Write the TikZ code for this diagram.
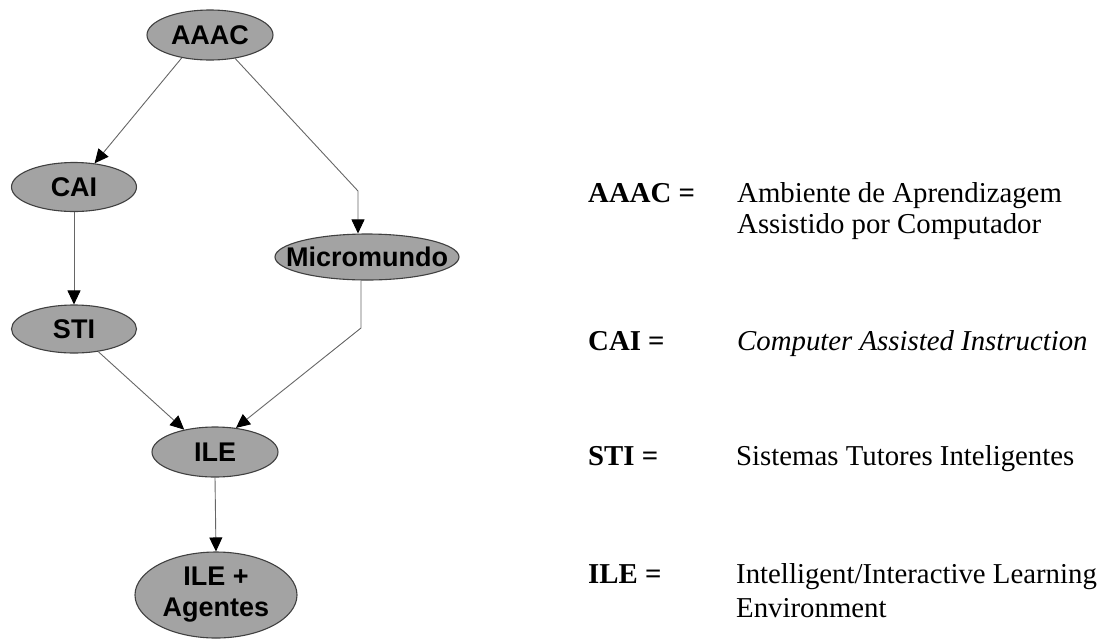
\documentclass[tikz,border=0pt]{standalone}
\usepackage{fontspec}
\setmainfont{Liberation Serif}
\newfontfamily\nodefont{Liberation Sans}
\usetikzlibrary{shapes.geometric,arrows.meta}
\begin{document}
\begin{tikzpicture}[x=1pt,y=-1pt,
  blob/.style={ellipse,draw=black!75,line width=1.1pt,fill=black!36,inner sep=0pt},
  arr/.style={draw=black!60,line width=0.9pt,-{Triangle[length=14pt,width=13pt,color=black]}},
  lbl/.style={font=\nodefont\bfseries\fontsize{27}{31}\selectfont,align=center,inner sep=0pt},
  key/.style={anchor=base west,inner sep=0pt,font=\fontsize{28.8}{32}\selectfont\bfseries},
  defn/.style={anchor=base west,inner sep=0pt,font=\fontsize{28.8}{32}\selectfont}]
\useasboundingbox (0,0) rectangle (1115,638);

% hierarchy of learning environments
\node[blob,minimum width=126,minimum height=50,label={[lbl]center:AAAC}] (aaac) at (210,35) {};
\node[blob,minimum width=125,minimum height=49,label={[lbl]center:CAI}] (cai) at (74,187) {};
\node[blob,minimum width=184,minimum height=46,label={[lbl]center:Micromundo}] (micro) at (367,257) {};
\node[blob,minimum width=125,minimum height=48,label={[lbl]center:STI}] (sti) at (74,329) {};
\node[blob,minimum width=126,minimum height=50,label={[lbl]center:ILE}] (ile) at (215,452) {};
\node[blob,minimum width=162,minimum height=86,label={[lbl]center:{ILE +\\Agentes}}] (agents) at (216,595) {};

\coordinate (bend) at (358,191);
\coordinate (knee) at (361,328);

\draw[arr] (aaac.219) -- (cai.49);
\draw[arr] (aaac.317) -- (bend) -- (bend |- micro.north);
\draw[arr] (cai.south) -- (sti.north);
\draw[arr] (micro.south -| knee) -- (knee) -- (ile.49);
\draw[arr] (sti.317) -- (ile.144);
\draw[arr] (ile.south) -- (agents.north);

% glossary of abbreviations
\node[key] (kaaac) at (588,202) {AAAC =};
\node[defn] (daaac1) at (737,202) {Ambiente de Aprendizagem};
\node[defn] (daaac2) at (737,233) {Assistido por Computador};
\node[key] (kcai) at (588,350) {CAI =};
\node[defn,font=\fontsize{28.8}{32}\selectfont\itshape] (dcai) at (737,350) {Computer Assisted Instruction};
\node[key] (ksti) at (588,465) {STI =};
\node[defn] (dsti) at (736,465) {Sistemas Tutores Inteligentes};
\node[key] (kile) at (588,583) {ILE =};
\node[defn] (dile1) at (736,583) {Intelligent/Interactive Learning};
\node[defn] (dile2) at (736,617) {Environment};
\end{tikzpicture}
\end{document}
